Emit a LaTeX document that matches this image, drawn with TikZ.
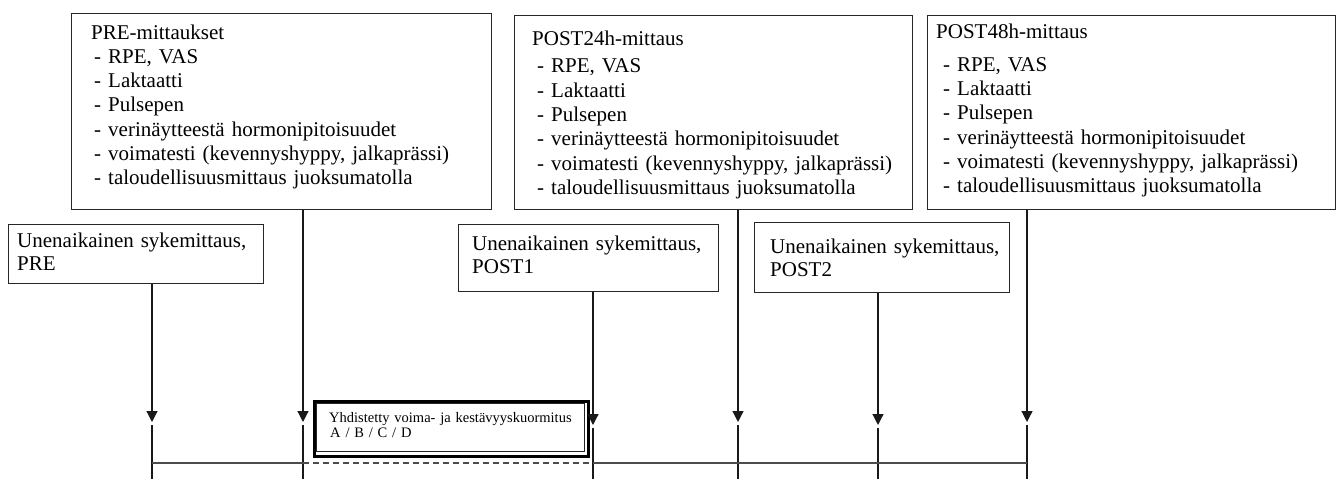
\documentclass[tikz,border=0pt]{standalone}
\usepackage{fontspec}
\setmainfont{Liberation Serif}
\usetikzlibrary{arrows.meta}
\begin{document}
\begin{tikzpicture}[x=1pt,y=-1pt,
  frame/.style={draw=black!85, line width=1.1pt, inner sep=0pt, anchor=north west},
  bigtxt/.style={anchor=base west, inner sep=0pt, text width=400pt, align=left, font=\fontsize{21}{24.3}\selectfont},
  smalltxt/.style={anchor=base west, inner sep=0pt, text width=300pt, align=left, font=\fontsize{21}{23.8}\selectfont},
  arr/.style={-{Triangle[width=11pt,length=11pt]}, line width=1.2pt, draw=black!90},
  tickline/.style={line width=1.2pt, draw=black!90},
  hline/.style={line width=1.5pt, draw=black!70},
  dashline/.style={line width=1.5pt, draw=black!70, dash pattern=on 6pt off 4pt},
  ]
\useasboundingbox (0,0) rectangle (1337,479);

% top measurement boxes
\node[frame, minimum width=420pt, minimum height=196pt] (premit) at (71,13) {};
\node[frame, minimum width=398pt, minimum height=194pt] (post24) at (514,15) {};
\node[frame, minimum width=408pt, minimum height=194pt] (post48) at (927,15) {};

\node[bigtxt] (premittxt) at (91,39) {PRE-mittaukset\\
\hspace*{3pt}- RPE, VAS\\
\hspace*{3pt}- Laktaatti\\
\hspace*{3pt}- Pulsepen\\
\hspace*{3pt}- verinäytteestä hormonipitoisuudet\\
\hspace*{3pt}- voimatesti (kevennyshyppy, jalkaprässi)\\
\hspace*{3pt}- taloudellisuusmittaus juoksumatolla};

\node[bigtxt] (post24txt) at (532,45) {POST24h-mittaus\\[3.7pt]
\hspace*{5pt}- RPE, VAS\\
\hspace*{5pt}- Laktaatti\\
\hspace*{5pt}- Pulsepen\\
\hspace*{5pt}- verinäytteestä hormonipitoisuudet\\
\hspace*{5pt}- voimatesti (kevennyshyppy, jalkaprässi)\\
\hspace*{5pt}- taloudellisuusmittaus juoksumatolla};

\node[bigtxt] (post48txt) at (936,38) {POST48h-mittaus\\[9pt]
\hspace*{7pt}- RPE, VAS\\
\hspace*{7pt}- Laktaatti\\
\hspace*{7pt}- Pulsepen\\
\hspace*{7pt}- verinäytteestä hormonipitoisuudet\\
\hspace*{7pt}- voimatesti (kevennyshyppy, jalkaprässi)\\
\hspace*{7pt}- taloudellisuusmittaus juoksumatolla};

% sleep HR boxes
\node[frame, minimum width=255pt, minimum height=59pt] (unpre) at (8,224) {};
\node[frame, minimum width=260pt, minimum height=67pt] (unpost1) at (458,224) {};
\node[frame, minimum width=255pt, minimum height=70pt] (unpost2) at (754,222) {};

\node[smalltxt] (unpretxt) at (17,247) {Unenaikainen sykemittaus,\\PRE};
\node[smalltxt] (unpost1txt) at (472,250) {Unenaikainen sykemittaus,\\POST1};
\node[smalltxt] (unpost2txt) at (770,253) {Unenaikainen sykemittaus,\\POST2};

% load box
\node[draw=black, line width=3pt, minimum width=274pt, minimum height=55pt, inner sep=0pt, anchor=north west] (loadout) at (312.5,399.5) {};
\node[draw=black!85, line width=1pt, minimum width=268pt, minimum height=48pt, inner sep=0pt, anchor=north west] (loadin) at (316,403) {};
\node[anchor=base west, inner sep=0pt, text width=260pt, align=left, font=\fontsize{14.5}{15.5}\selectfont] (loadtxt) at (329,422) {Yhdistetty voima- ja kestävyyskuormitus\\\hspace*{1pt}A / B / C / D};

% arrow tips and tick coordinates
\coordinate (a1) at (152,422); \coordinate (b1) at (152,425); \coordinate (e1) at (152,479);
\coordinate (a2) at (303,422); \coordinate (b2) at (303,425); \coordinate (e2) at (303,479);
\coordinate (a3) at (593,425); \coordinate (b3) at (593,428); \coordinate (e3) at (593,479);
\coordinate (a4) at (738,422); \coordinate (b4) at (738,425); \coordinate (e4) at (738,479);
\coordinate (a5) at (878,425); \coordinate (b5) at (878,428); \coordinate (e5) at (878,479);
\coordinate (a6) at (1027,422); \coordinate (b6) at (1027,425); \coordinate (e6) at (1027,479);

\draw[arr] (unpre.south -| a1) -- (a1);
\draw[arr] (premit.south -| a2) -- (a2);
\draw[arr] (unpost1.south -| a3) -- (a3);
\draw[arr] (post24.south -| a4) -- (a4);
\draw[arr] (unpost2.south -| a5) -- (a5);
\draw[arr] (post48.south -| a6) -- (a6);

\draw[tickline] (b1) -- (e1);
\draw[tickline] (b2) -- (e2);
\draw[tickline] (b3) -- (e3);
\draw[tickline] (b4) -- (e4);
\draw[tickline] (b5) -- (e5);
\draw[tickline] (b6) -- (e6);

% timeline
\coordinate (h1) at (152,463);
\coordinate (h2) at (303,463);
\coordinate (h3) at (593,463);
\coordinate (h4) at (1027,463);
\draw[hline] (h1) -- (h2);
\draw[dashline] (h2) -- (h3);
\draw[hline] (h3) -- (h4);
\end{tikzpicture}
\end{document}
